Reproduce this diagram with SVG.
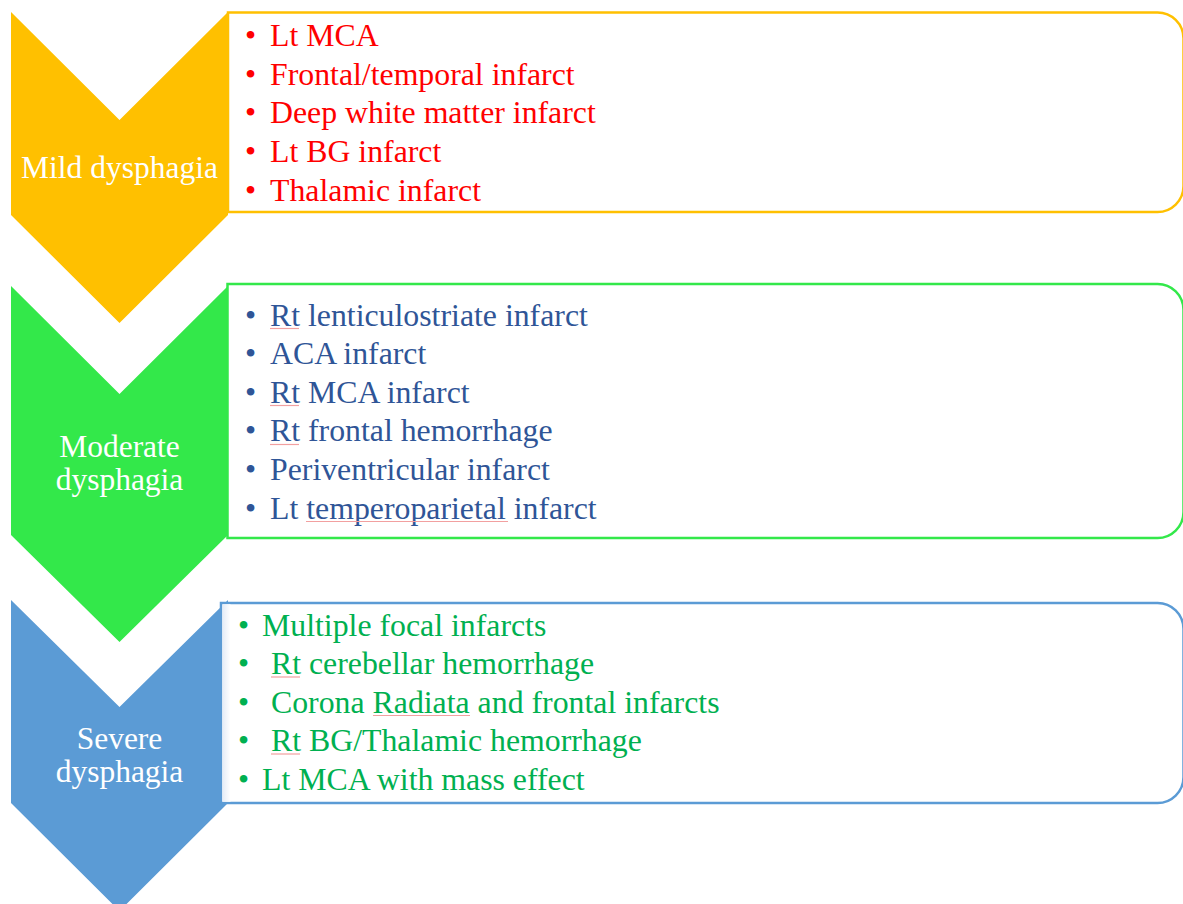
<svg xmlns="http://www.w3.org/2000/svg" width="1183" height="904" viewBox="0 0 1183 904">
<defs>
<style>
.lbl{font-family:"Liberation Serif","Times New Roman",serif;font-size:31.5px;fill:#FFFFFF;text-anchor:middle}
.item{font-family:"Liberation Serif","Times New Roman",serif;font-size:31.8px}
.red{fill:#FF0000}
.navy{fill:#2F5597}
.grn{fill:#00B050}
.sq{stroke:#F2A0A0;stroke-width:1.2;fill:none}
.box{fill:#FFFFFF;stroke-width:2.5}
</style>
<linearGradient id="strip" x1="0" y1="0" x2="1" y2="0">
<stop offset="0" stop-color="#E4ECF7"/>
<stop offset="1" stop-color="#FFFFFF"/>
</linearGradient>
</defs>
<rect width="1183" height="904" fill="#FFFFFF"/>

<g id="mild">
<path d="M11,12 L119.5,120 L228,12 L228,215 L119.5,323 L11,215 Z" fill="#FFC000"/>
<path class="box" stroke="#FFC000" d="M228,12.5 L1157,12.5 A26,26 0 0 1 1183.5,38.5 L1183.5,186 A26,26 0 0 1 1157,212 L228,212 Z"/>
<text class="lbl" x="119.5" y="178">Mild dysphagia</text>
<g class="item red">
<text x="245" y="45.5">•</text><text x="270" y="45.5">Lt MCA</text>
<text x="245" y="84.5">•</text><text x="270" y="84.5">Frontal/temporal infarct</text>
<text x="245" y="123">•</text><text x="270" y="123">Deep white matter infarct</text>
<text x="245" y="162">•</text><text x="270" y="162">Lt BG infarct</text>
<text x="245" y="200.5">•</text><text x="270" y="200.5">Thalamic infarct</text>
</g>
</g>

<g id="moderate">
<path d="M11,286 L119.5,394 L228,286 L228,535 L119.5,642 L11,535 Z" fill="#33E84A"/>
<path class="box" stroke="#33E84A" d="M227.5,284 L1157,284 A26,26 0 0 1 1183.5,310 L1183.5,512 A26,26 0 0 1 1157,538 L227.5,538 Z"/>
<text class="lbl" x="119.5" y="457">Moderate</text>
<text class="lbl" x="119.5" y="490">dysphagia</text>
<g class="item navy">
<text x="245" y="325.5">•</text><text x="270" y="325.5">Rt lenticulostriate infarct</text>
<text x="245" y="364">•</text><text x="270" y="364">ACA infarct</text>
<text x="245" y="402.7">•</text><text x="270" y="402.7">Rt MCA infarct</text>
<text x="245" y="441.3">•</text><text x="270" y="441.3">Rt frontal hemorrhage</text>
<text x="245" y="480">•</text><text x="270" y="480">Periventricular infarct</text>
<text x="245" y="518.5">•</text><text x="270" y="518.5">Lt temperoparietal infarct</text>
</g>
<g class="sq">
<line x1="270" y1="328.5" x2="299" y2="328.5"/>
<line x1="270" y1="405.5" x2="299" y2="405.5"/>
<line x1="270" y1="444.5" x2="299" y2="444.5"/>
<line x1="306" y1="521.5" x2="508" y2="521.5"/>
</g>
</g>

<g id="severe">
<path d="M11,600 L119.5,707 L228,600 L228,803 L119.5,911 L11,803 Z" fill="#5B9BD5"/>
<path class="box" stroke="#5B9BD5" d="M221,603 L1157,603 A26,26 0 0 1 1183.5,629 L1183.5,777 A26,26 0 0 1 1157,803 L221,803 Z"/>
<rect x="222.5" y="604.3" width="8" height="197.4" fill="url(#strip)"/>
<text class="lbl" x="119.5" y="749">Severe</text>
<text class="lbl" x="119.5" y="782">dysphagia</text>
<g class="item grn">
<text x="238" y="635.5">•</text><text x="262" y="635.5">Multiple focal infarcts</text>
<text x="238" y="674">•</text><text x="271" y="674">Rt cerebellar hemorrhage</text>
<text x="238" y="712.5">•</text><text x="271" y="712.5">Corona Radiata and frontal infarcts</text>
<text x="238" y="751">•</text><text x="271" y="751">Rt BG/Thalamic hemorrhage</text>
<text x="238" y="789.5">•</text><text x="262" y="789.5">Lt MCA with mass effect</text>
</g>
<g class="sq">
<line x1="271" y1="677" x2="300" y2="677"/>
<line x1="373" y1="715.5" x2="470" y2="715.5"/>
<line x1="271" y1="754" x2="300" y2="754"/>
</g>
</g>

<g id="connectors"></g>
</svg>
